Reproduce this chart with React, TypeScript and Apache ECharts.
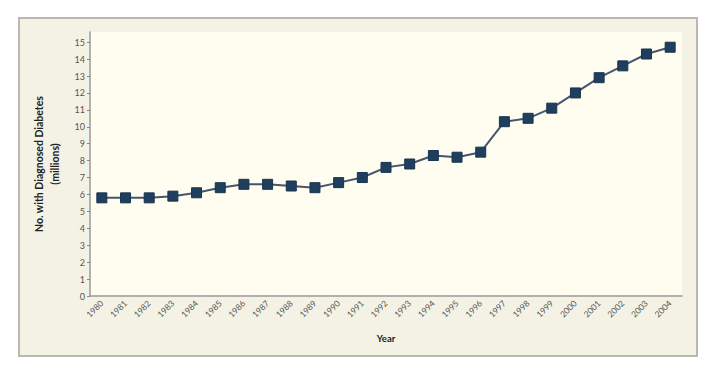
import React, { useEffect, useRef } from "react";
import * as echarts from "echarts";

const years = ["1980","1981","1982","1983","1984","1985","1986","1987","1988","1989","1990","1991","1992","1993","1994","1995","1996","1997","1998","1999","2000","2001","2002","2003","2004"];
const diagnosed = [5.8,5.8,5.8,5.9,6.1,6.4,6.6,6.6,6.5,6.4,6.7,7.0,7.6,7.8,8.3,8.2,8.5,10.3,10.5,11.1,12.0,12.9,13.6,14.3,14.7];
const yTitle = "No. with Diagnosed Diabetes\n(millions)";
const xTitle = "Year";

export default function App() {
  const ref = useRef<HTMLDivElement>(null);
  useEffect(() => {
    const chart = echarts.init(ref.current!, null, { renderer: "svg" });
    chart.setOption({
      animation: false,
      backgroundColor: "#ffffff",
      textStyle: { fontFamily: "Lato, 'DejaVu Sans', sans-serif" },
      graphic: [
        {
          type: "rect",
          z: -10,
          shape: { x: 19, y: 18, width: 678, height: 338 },
          style: { fill: "#f4f2e4", stroke: "#b9b9b0", lineWidth: 2 },
        },
      ],
      grid: {
        left: 90,
        right: 34,
        top: 32,
        bottom: 79,
        show: true,
        backgroundColor: "#fffdf0",
        borderWidth: 0,
      },
      xAxis: {
        type: "category",
        data: years,
        boundaryGap: true,
        name: xTitle,
        nameLocation: "middle",
        nameGap: 37,
        nameTextStyle: { fontWeight: "bold", fontSize: 9.5, color: "#222" },
        axisLine: { lineStyle: { color: "#9a9a9a", width: 1.5 } },
        axisTick: { alignWithLabel: true, length: 3, lineStyle: { color: "#888" } },
        axisLabel: { rotate: 45, fontSize: 8.5, color: "#555", margin: 6, interval: 0 },
      },
      yAxis: {
        type: "value",
        min: 0,
        max: 15.6,
        interval: 1,
        name: yTitle,
        nameLocation: "middle",
        nameGap: 27,
        nameRotate: 90,
        nameTextStyle: { fontWeight: "bold", fontSize: 10.5, color: "#222", lineHeight: 16 },
        axisLine: { show: true, lineStyle: { color: "#9a9a9a", width: 1.5 } },
        axisTick: { show: true, length: 3, lineStyle: { color: "#888" } },
        axisLabel: { fontSize: 9, color: "#555", margin: 5, showMaxLabel: false },
        splitLine: { show: false },
      },
      series: [
        {
          type: "line",
          data: diagnosed,
          symbol: "rect",
          symbolSize: 10,
          lineStyle: { color: "#45566a", width: 2 },
          itemStyle: { color: "#1f3f5e", borderColor: "#1a344f", borderWidth: 1 },
        },
      ],
    });
    return () => chart.dispose();
  }, []);
  return (
    <div
      ref={ref}
      style={{ position: "fixed", left: 0, top: 0, width: 716, height: 375 }}
    />
  );
}
